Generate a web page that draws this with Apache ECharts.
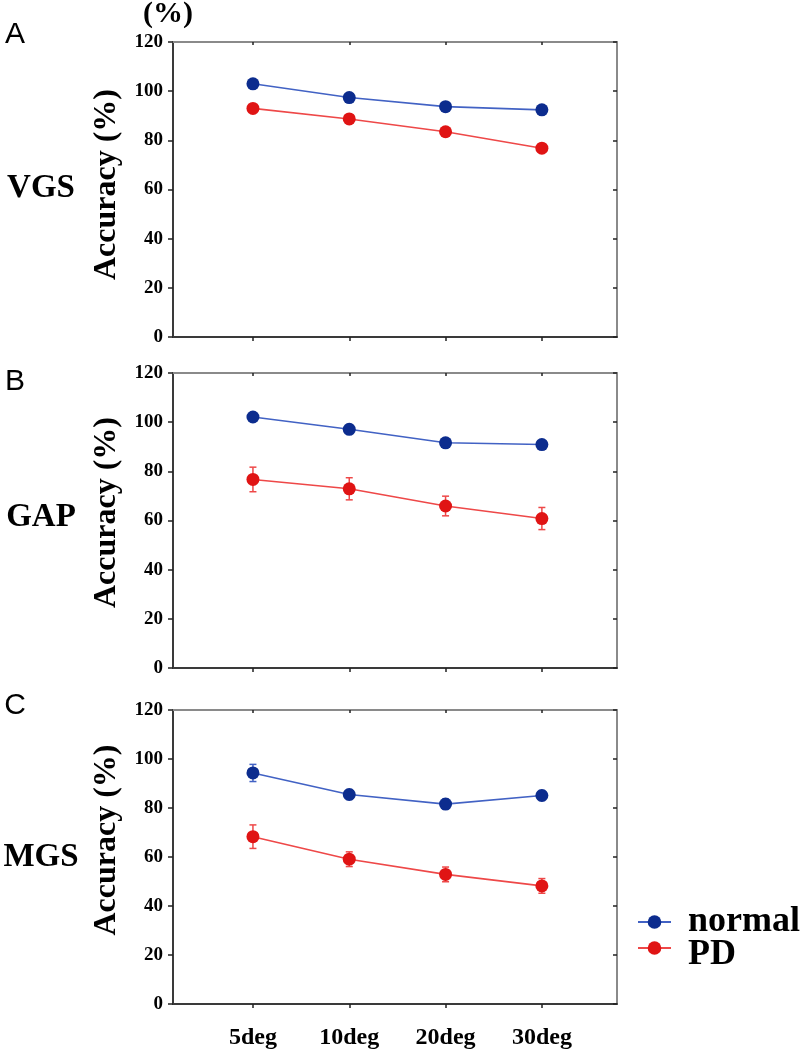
<!DOCTYPE html>
<html>
<head>
<meta charset="utf-8">
<script src="https://cdn.jsdelivr.net/npm/echarts@6/dist/echarts.min.js"></script>
<style>
html,body{margin:0;padding:0;background:#fff;}
#chart{width:801px;height:1050px;}
</style>
</head>
<body>
<div id="chart"></div>
<script>
// ---- data ----
const categories = ['5deg', '10deg', '20deg', '30deg'];
const panelLetters = ['A', 'B', 'C'];
const panelNames = ['VGS', 'GAP', 'MGS'];
const seriesNames = ['normal', 'PD'];
const yMin = 0, yMax = 120, yStep = 20;

const vgsNormal    = [103.0, 97.4, 93.7, 92.4];
const vgsNormalErr = [1.5, 1.5, 1.5, 1.5];
const vgsPD        = [93.0, 88.7, 83.5, 76.8];
const vgsPDErr     = [1.5, 1.5, 1.5, 1.5];

const gapNormal    = [102.1, 97.1, 91.6, 90.9];
const gapNormalErr = [1.5, 1.5, 1.5, 1.5];
const gapPD        = [76.7, 72.9, 65.9, 60.8];
const gapPDErr     = [5.0, 4.5, 4.0, 4.5];

const mgsNormal    = [94.3, 85.5, 81.6, 85.1];
const mgsNormalErr = [3.5, 2.0, 2.0, 2.0];
const mgsPD        = [68.3, 59.1, 52.9, 48.2];
const mgsPDErr     = [4.8, 3.0, 3.0, 3.0];

// ---- styling / layout ----
const SERIF = '"Liberation Serif", "Times New Roman", serif';
const SANS = '"Liberation Sans", Arial, sans-serif';
const blueMark = '#0c2c8e', blueLine = '#4262c4';
const redMark = '#e01414', redLine = '#ee4848';
const xMin = -0.83, xMax = 3.78;
const grids = [
  {left: 173, top: 42, width: 444, height: 295},
  {left: 173, top: 373, width: 444, height: 295},
  {left: 173, top: 710, width: 444, height: 294}
];
const nameShift = [10, 16, 34];
const panels = [
  {normal: vgsNormal, normalErr: vgsNormalErr, pd: vgsPD, pdErr: vgsPDErr},
  {normal: gapNormal, normalErr: gapNormalErr, pd: gapPD, pdErr: gapPDErr},
  {normal: mgsNormal, normalErr: mgsNormalErr, pd: mgsPD, pdErr: mgsPDErr}
];
const letterY = [35, 382, 706];
const nameY = [188, 517, 857];
const legendTop = [904, 937];
const legendTextPadTop = [0, 14];

const catIdx = categories.map((c, i) => i);

const xAxes = [], yAxes = [], series = [], graphics = [];

function errRender(color) {
  return function (params, api) {
    const x = api.value(0), y = api.value(1), e = api.value(2);
    const t = api.coord([x, y + e]);
    const b = api.coord([x, y - e]);
    const w = 3.5;
    const st = {stroke: color, lineWidth: 1.5};
    return {
      type: 'group',
      children: [
        {type: 'line', shape: {x1: t[0], y1: t[1], x2: b[0], y2: b[1]}, style: st},
        {type: 'line', shape: {x1: t[0] - w, y1: t[1], x2: t[0] + w, y2: t[1]}, style: st},
        {type: 'line', shape: {x1: b[0] - w, y1: b[1], x2: b[0] + w, y2: b[1]}, style: st}
      ]
    };
  };
}

panels.forEach((p, k) => {
  const last = k === panels.length - 1;
  // bottom x axis
  xAxes.push({
    type: 'value', gridIndex: k, position: 'bottom', min: xMin, max: xMax,
    axisLine: {show: true, onZero: false, lineStyle: {color: '#3a3a3a', width: 2}},
    axisTick: {show: true, inside: false, length: 4, customValues: catIdx, lineStyle: {color: '#222', width: 1.5}},
    axisLabel: {
      show: last, customValues: catIdx, margin: 22,
      fontFamily: SERIF, fontWeight: 'bold', fontSize: 24, color: '#000',
      formatter: v => categories[Math.round(v)]
    },
    splitLine: {show: false}
  });
  // top x axis (frame)
  xAxes.push({
    type: 'value', gridIndex: k, position: 'top', min: xMin, max: xMax,
    axisLine: {show: true, onZero: false, lineStyle: {color: '#8a8a8a', width: 2}},
    axisTick: {show: true, inside: true, length: 3, customValues: catIdx, lineStyle: {color: '#222', width: 1.5}},
    axisLabel: {show: false},
    splitLine: {show: false}
  });
  // left y axis
  yAxes.push({
    type: 'value', gridIndex: k, position: 'left', min: yMin, max: yMax, interval: yStep,
    name: 'Accuracy (%)', nameLocation: 'middle', nameGap: 50,
    nameTextStyle: {fontFamily: SERIF, fontWeight: 'bold', fontSize: 32, color: '#000', padding: [0, 0, 0, nameShift[k]]},
    axisLine: {show: true, onZero: false, lineStyle: {color: '#3a3a3a', width: 2}},
    axisTick: {show: true, inside: false, length: 5, lineStyle: {color: '#222', width: 1.5}},
    axisLabel: {fontFamily: SERIF, fontWeight: 'bold', fontSize: 19, color: '#000', margin: 10},
    splitLine: {show: false}
  });
  // right y axis (frame)
  yAxes.push({
    type: 'value', gridIndex: k, position: 'right', min: yMin, max: yMax, interval: yStep,
    axisLine: {show: true, onZero: false, lineStyle: {color: '#8a8a8a', width: 2}},
    axisTick: {show: true, inside: true, length: 4, lineStyle: {color: '#222', width: 1.5}},
    axisLabel: {show: false},
    splitLine: {show: false}
  });
  const xi = k * 2, yi = k * 2;
  series.push({
    type: 'custom', name: 'normal SD', xAxisIndex: xi, yAxisIndex: yi, z: 1,
    renderItem: errRender(blueLine), encode: {x: 0, y: 1},
    data: p.normal.map((v, i) => [i, v, p.normalErr[i]]), silent: true
  });
  series.push({
    type: 'custom', name: 'PD SD', xAxisIndex: xi, yAxisIndex: yi, z: 1,
    renderItem: errRender(redLine), encode: {x: 0, y: 1},
    data: p.pd.map((v, i) => [i, v, p.pdErr[i]]), silent: true
  });
  series.push({
    type: 'line', name: seriesNames[0], xAxisIndex: xi, yAxisIndex: yi, z: 3,
    symbol: 'circle', symbolSize: 13, showSymbol: true,
    itemStyle: {color: blueMark},
    lineStyle: {color: blueLine, width: 1.6},
    data: p.normal.map((v, i) => [i, v])
  });
  series.push({
    type: 'line', name: seriesNames[1], xAxisIndex: xi, yAxisIndex: yi, z: 3,
    symbol: 'circle', symbolSize: 13, showSymbol: true,
    itemStyle: {color: redMark},
    lineStyle: {color: redLine, width: 1.6},
    data: p.pd.map((v, i) => [i, v])
  });
  graphics.push({
    type: 'text', x: 15, y: letterY[k],
    style: {text: panelLetters[k], font: '30px ' + SANS, fill: '#000', textAlign: 'center', textVerticalAlign: 'middle'}
  });
  graphics.push({
    type: 'text', x: 41, y: nameY[k],
    style: {text: panelNames[k], font: 'bold 33px ' + SERIF, fill: '#000', textAlign: 'center', textVerticalAlign: 'middle'}
  });
});

graphics.push({
  type: 'text', x: 168, y: 14,
  style: {text: '(%)', font: 'bold 30px ' + SERIF, fill: '#000', textAlign: 'center', textVerticalAlign: 'middle'}
});

const legends = seriesNames.map((n, i) => ({
  data: [n],
  orient: 'vertical', left: 637, top: legendTop[i], padding: 0,
  itemWidth: 33, itemHeight: 17,
  formatter: name => '{t|' + name + '}',
  textStyle: {
    fontFamily: SERIF, fontWeight: 'bold', fontSize: 36, color: '#000', padding: [0, 0, 0, 12],
    rich: {t: {fontFamily: SERIF, fontWeight: 'bold', fontSize: 36, color: '#000', padding: [legendTextPadTop[i], 0, 0, 0]}}
  },
  selectedMode: false
}));

const chart = echarts.init(document.getElementById('chart'), null, {renderer: 'canvas'});
chart.setOption({
  backgroundColor: '#fff',
  animation: false,
  grid: grids,
  xAxis: xAxes,
  yAxis: yAxes,
  legend: legends,
  graphic: graphics,
  series: series
});
</script>
</body>
</html>
